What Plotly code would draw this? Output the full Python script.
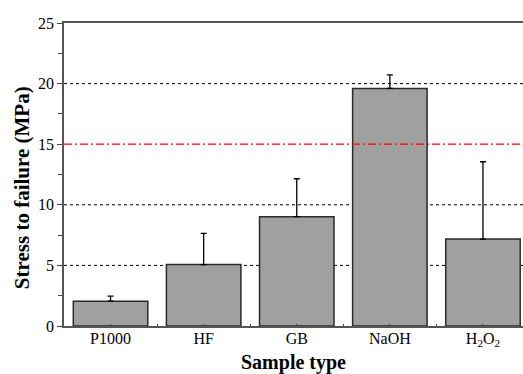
import plotly.graph_objects as go

categories = ["P1000", "HF", "GB", "NaOH", "H<sub>2</sub>O<sub>2</sub>"]
stress = [2.05, 5.07, 9.02, 19.6, 7.17]
stress_err = [0.42, 2.57, 3.13, 1.12, 6.38]
grid_values = [5, 10, 20]
threshold = 15
y_ticks = [0, 5, 10, 15, 20, 25]

FONT = "Liberation Serif, Times New Roman, serif"

fig = go.Figure()
fig.add_trace(go.Bar(
    x=list(range(len(categories))),
    y=stress,
    width=0.8,
    marker=dict(color="#a0a0a0", line=dict(color="#2a2a2a", width=1.5)),
    error_y=dict(type="data", symmetric=False, array=stress_err,
                 arrayminus=[0] * len(stress), color="black",
                 thickness=1.3, width=3),
))

for g in grid_values:
    fig.add_shape(type="line", xref="paper", x0=0, x1=1, yref="y", y0=g, y1=g,
                  line=dict(color="black", width=1, dash="dot"), layer="below")

fig.add_shape(type="line", xref="paper", x0=0, x1=1, yref="y",
              y0=threshold, y1=threshold,
              line=dict(color="red", width=1.2, dash="8px,3px,2px,3px"),
              layer="above")

# y-axis title as annotation (sits slightly below the plot centre in the original)
fig.add_annotation(text="<b>Stress to failure (MPa)</b>", textangle=-90,
                   xref="paper", x=0, xanchor="center", xshift=-42,
                   yref="paper", y=0.455, yanchor="middle",
                   showarrow=False, font=dict(size=21, family=FONT, color="black"))

fig.update_layout(
    width=523, height=374,
    margin=dict(l=64, r=0, t=23, b=48),
    plot_bgcolor="white", paper_bgcolor="white",
    showlegend=False,
    font=dict(family=FONT, color="black", size=16),
    bargap=0.2,
)
fig.update_xaxes(
    range=[-0.5, 4.43],
    tickmode="array", tickvals=list(range(len(categories))), ticktext=categories,
    ticks="inside", ticklen=2, tickcolor="#444",
    minor=dict(tickmode="array", tickvals=[i + 0.5 for i in range(len(categories))],
               ticks="inside", ticklen=2, tickcolor="#444"),
    showline=True, linecolor="#555", linewidth=1.5, mirror=True,
    showgrid=False, zeroline=False,
    tickfont=dict(size=16, family=FONT),
    ticklabelstandoff=-3,
    title=dict(text="<b>Sample type</b>", font=dict(size=20, family=FONT), standoff=7),
)
fig.update_yaxes(
    range=[0, 25],
    tickmode="array", tickvals=y_ticks,
    ticks="outside", ticklen=5, tickcolor="#444",
    minor=dict(dtick=2.5, ticks="outside", ticklen=4, tickcolor="#444"),
    showline=True, linecolor="#555", linewidth=1.5,
    showgrid=False, zeroline=False,
    tickfont=dict(size=16, family=FONT),
)

fig.write_html("out.html", config={"displayModeBar": False},
               post_script="document.body.style.margin='0';")
